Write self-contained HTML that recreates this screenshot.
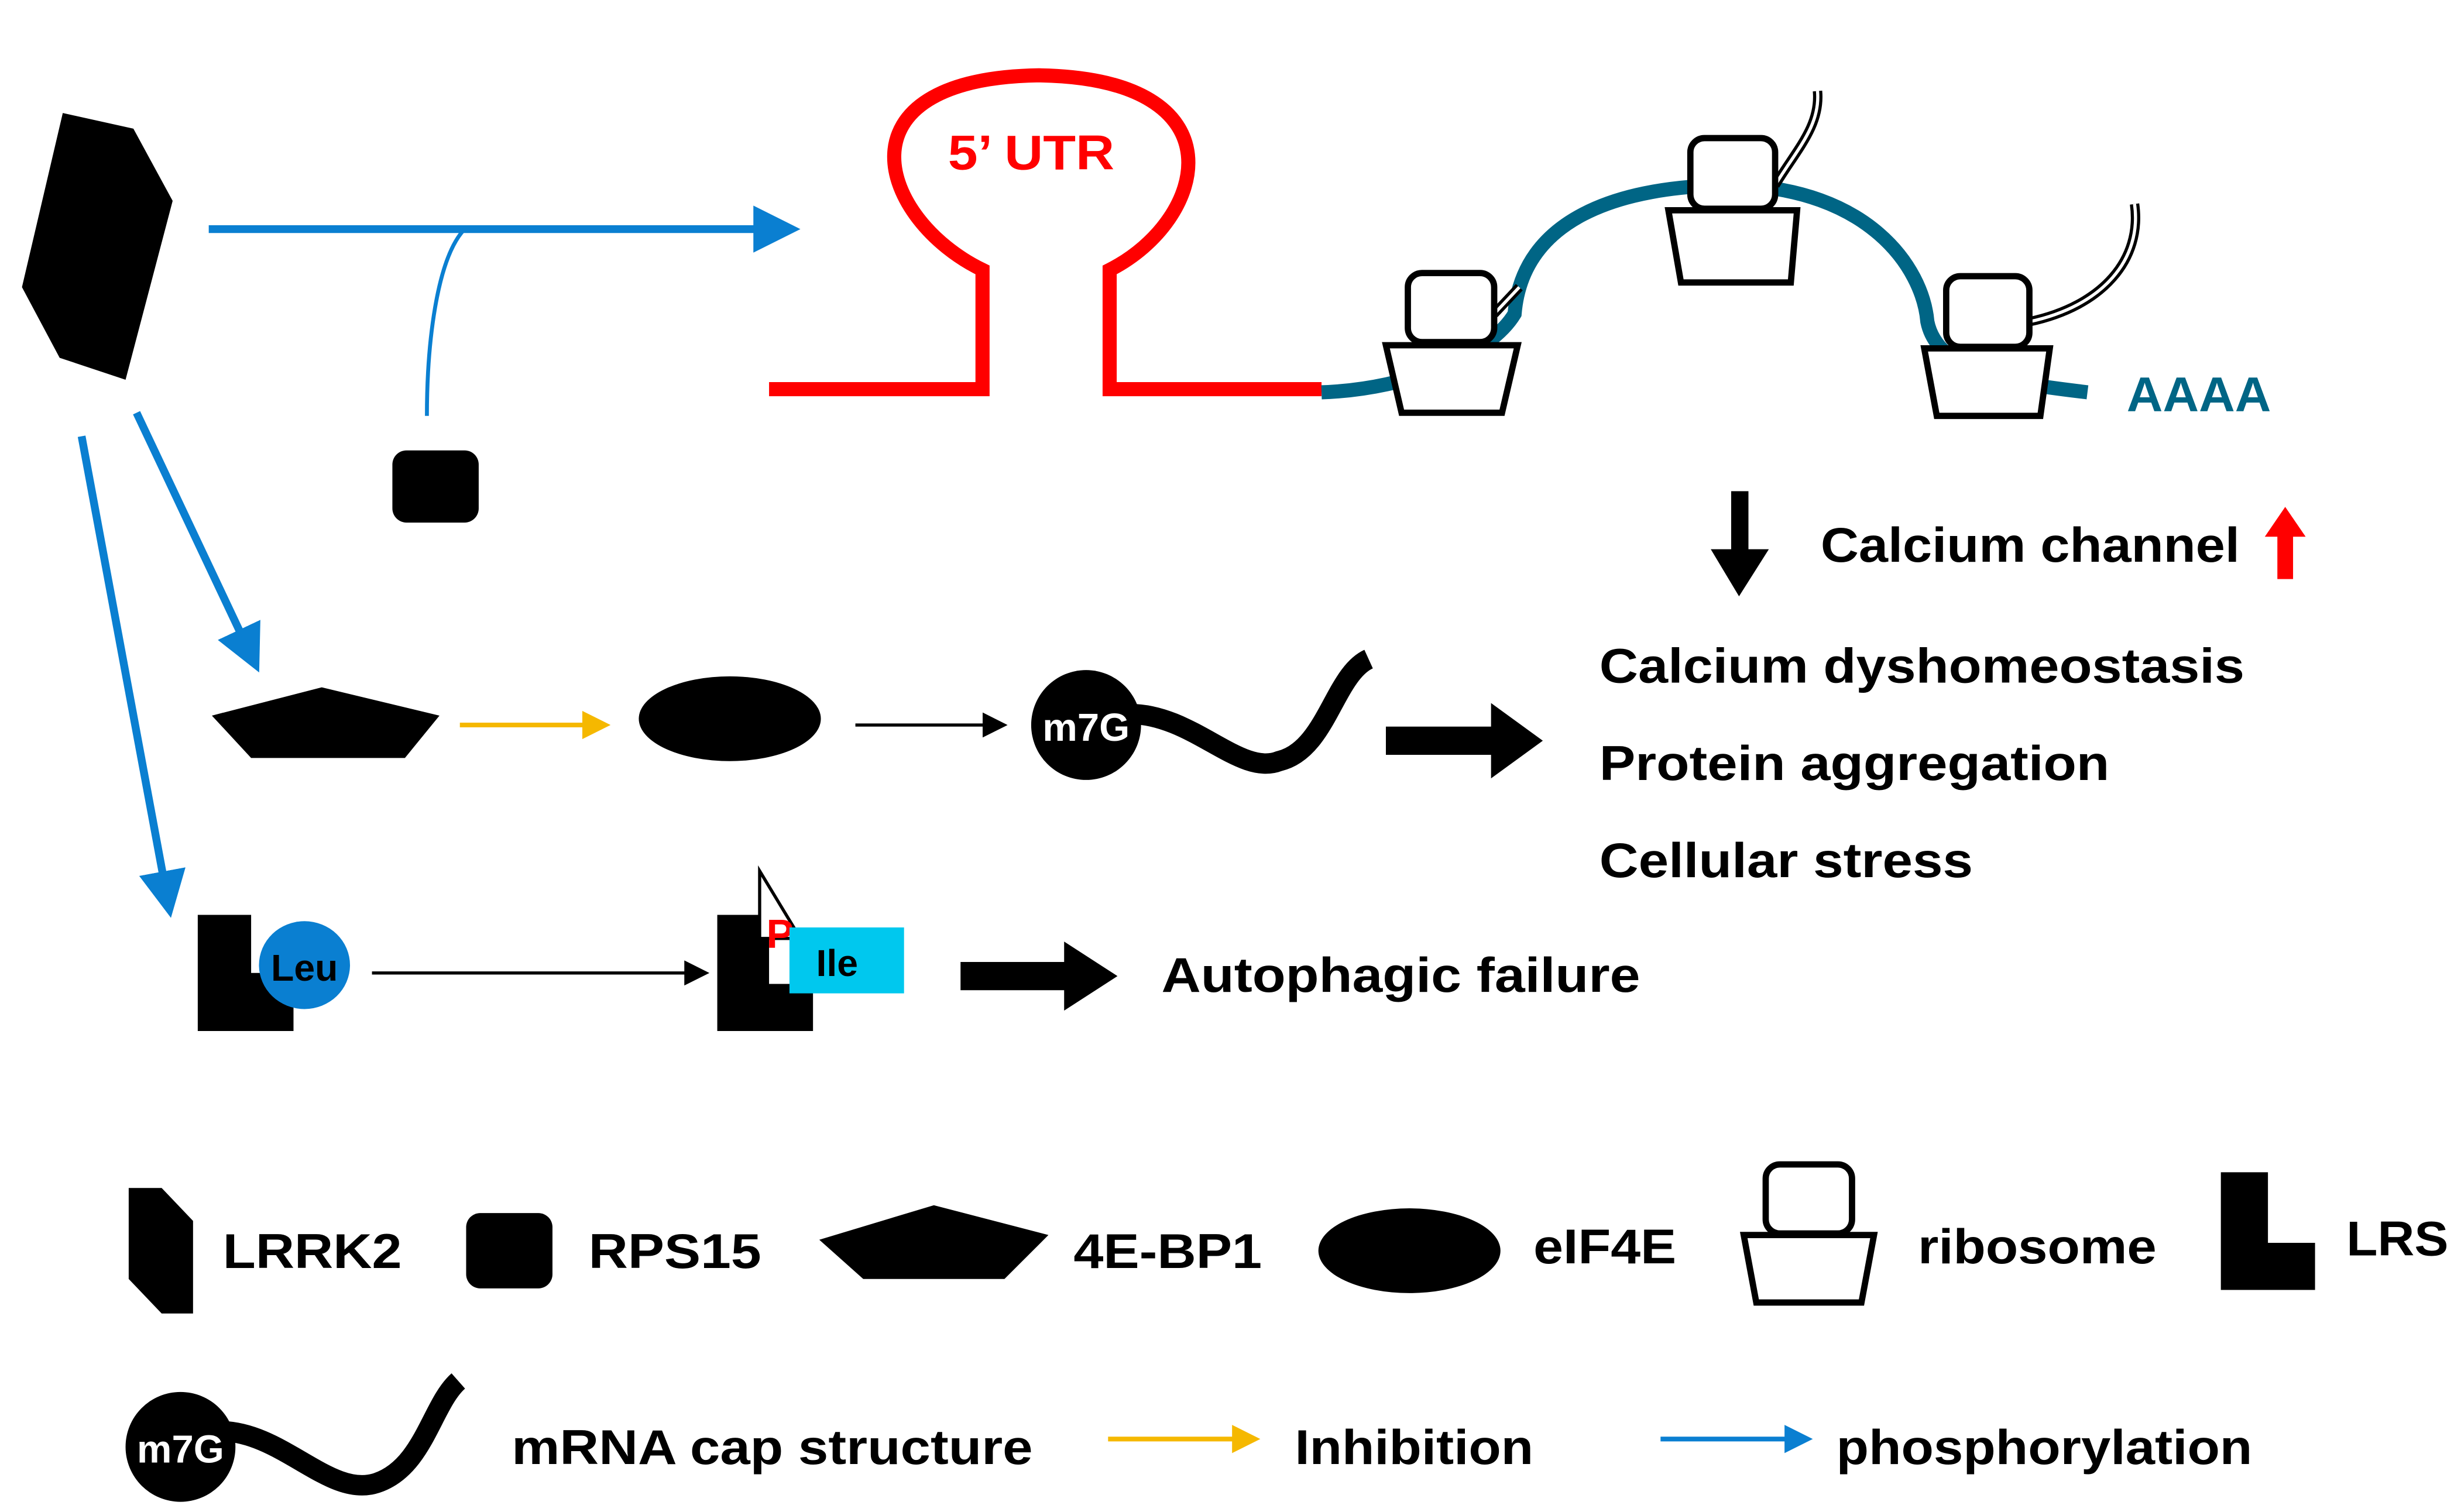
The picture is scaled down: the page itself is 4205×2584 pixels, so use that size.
<!DOCTYPE html>
<html><head><meta charset="utf-8"><style>html,body{margin:0;padding:0;background:#fff}svg{display:block}text{font-family:"Liberation Sans",Arial,sans-serif;font-weight:bold}</style></head>
<body>
<svg width="4205" height="2584" viewBox="0 0 1568 963.5" preserveAspectRatio="none" xmlns="http://www.w3.org/2000/svg">
<defs>
<marker id="ab" markerWidth="6" markerHeight="6" refX="5" refY="3" orient="auto" markerUnits="strokeWidth"><path d="M0,0 L6,3 L0,6 z" fill="#0a7fd1"/></marker>
<marker id="ak" markerWidth="8" markerHeight="8" refX="7" refY="4" orient="auto" markerUnits="strokeWidth"><path d="M0,0 L8,4 L0,8 z" fill="#000"/></marker>
<marker id="ay" markerWidth="6" markerHeight="6" refX="5" refY="3" orient="auto" markerUnits="strokeWidth"><path d="M0,0 L6,3 L0,6 z" fill="#f5b800"/></marker>
</defs>
<polygon points="40,72 85,82 110,128 80,242 38,228 14,183" fill="#000"/>
<line x1="133" y1="146" x2="505" y2="146" stroke="#0a7fd1" stroke-width="5" marker-end="url(#ab)"/>
<path d="M296,146 C278,165 272,220 272,265" fill="none" stroke="#0a7fd1" stroke-width="2.5"/>
<rect x="250" y="287" width="55" height="46" rx="9" fill="#000"/>
<line x1="87" y1="263" x2="163" y2="424" stroke="#0a7fd1" stroke-width="5" marker-end="url(#ab)"/>
<line x1="52" y1="278" x2="108" y2="580" stroke="#0a7fd1" stroke-width="5" marker-end="url(#ab)"/>
<path d="M490,248 H626 V172 C560,140 530,50 662,48 C792,50 770,140 707,172 V248 H842" fill="none" stroke="#f00" stroke-width="9"/>
<text x="604" y="108" font-size="31" fill="#f00" textLength="106" lengthAdjust="spacingAndGlyphs">5’ UTR</text>
<path d="M842,250 C900,248 950,225 965,200 C970,140 1030,118 1105,118 C1190,120 1225,170 1228,205 C1235,240 1290,245 1330,250" fill="none" stroke="#006585" stroke-width="9"/>
<text x="1355" y="262" font-size="31" fill="#006585" textLength="92" lengthAdjust="spacingAndGlyphs">AAAA</text>
<g fill="none" stroke="#000" stroke-width="6"><path d="M952,200 L968,183"/><path d="M1131,118 C1145,95 1160,80 1158,58"/><path d="M1293,205 C1340,195 1365,165 1360,130"/></g>
<g fill="none" stroke="#fff" stroke-width="2"><path d="M952,200 L968,183"/><path d="M1131,118 C1145,95 1160,80 1158,58"/><path d="M1293,205 C1340,195 1365,165 1360,130"/></g>
<g fill="#fff" stroke="#000" stroke-width="4">
<rect x="897" y="174" width="55" height="44" rx="9"/><polygon points="883,220 967,220 957,263 893,263"/>
<rect x="1077" y="88" width="54" height="45" rx="9"/><polygon points="1063,134 1145,134 1141,180 1071,180"/>
<rect x="1240" y="176" width="53" height="45" rx="9"/><polygon points="1226,222 1306,222 1300,265 1234,265"/>
</g>
<rect x="1103" y="313" width="11" height="40" fill="#000"/><polygon points="1090,350 1127,350 1108,380" fill="#000"/>
<text x="1160" y="358" font-size="31" textLength="267" lengthAdjust="spacingAndGlyphs">Calcium channel</text>
<rect x="1451" y="340" width="10" height="29" fill="#f00"/><polygon points="1443,342 1469,342 1456,323" fill="#f00"/>
<polygon points="135,456 205,438 280,456 258,483 160,483" fill="#000"/>
<line x1="293" y1="462" x2="386" y2="462" stroke="#f5b800" stroke-width="3" marker-end="url(#ay)"/>
<ellipse cx="465" cy="458" rx="58" ry="27" fill="#000"/>
<line x1="545" y1="462" x2="640" y2="462" stroke="#000" stroke-width="2" marker-end="url(#ak)"/>
<path d="M720,455 C760,455 790,495 815,485 C845,478 850,430 872,420" fill="none" stroke="#000" stroke-width="13"/>
<circle cx="692" cy="462" r="35" fill="#000"/>
<text x="692" y="472" font-size="25" fill="#fff" text-anchor="middle">m7G</text>
<polygon points="883,463 950,463 950,448 983,472 950,496 950,481 883,481" fill="#000"/>
<text x="1019" y="435" font-size="31" textLength="411" lengthAdjust="spacingAndGlyphs">Calcium dyshomeostasis</text>
<text x="1019" y="497" font-size="31" textLength="325" lengthAdjust="spacingAndGlyphs">Protein aggregation</text>
<text x="1019" y="559" font-size="31" textLength="238" lengthAdjust="spacingAndGlyphs">Cellular stress</text>
<polygon points="126,583 160,583 160,620 187,620 187,657 126,657" fill="#000"/>
<ellipse cx="194" cy="615" rx="29" ry="28" fill="#0a7fd1"/>
<text x="194" y="625" font-size="24" text-anchor="middle">Leu</text>
<line x1="237" y1="620" x2="450" y2="620" stroke="#000" stroke-width="2" marker-end="url(#ak)"/>
<polygon points="457,583 490,583 490,627 518,627 518,657 457,657" fill="#000"/>
<polygon points="484,555 510,598 484,598" fill="#fff" stroke="#000" stroke-width="2"/>
<text x="497" y="604" font-size="26" fill="#f00" text-anchor="middle">P</text>
<rect x="503" y="591" width="73" height="42" fill="#00c8ee"/>
<text x="520" y="622" font-size="24">Ile</text>
<polygon points="612,613 678,613 678,600 712,622 678,644 678,631 612,631" fill="#000"/>
<text x="740" y="632" font-size="31" textLength="305" lengthAdjust="spacingAndGlyphs">Autophagic  failure</text>
<polygon points="82,757 103,757 123,778 123,837 103,837 82,815" fill="#000"/>
<text x="142" y="808" font-size="31" textLength="114" lengthAdjust="spacingAndGlyphs">LRRK2</text>
<rect x="297" y="773" width="55" height="48" rx="9" fill="#000"/>
<text x="375" y="808" font-size="31" textLength="110" lengthAdjust="spacingAndGlyphs">RPS15</text>
<polygon points="522,790 595,768 668,787 640,815 550,815" fill="#000"/>
<text x="684" y="808" font-size="31" textLength="120" lengthAdjust="spacingAndGlyphs">4E-BP1</text>
<ellipse cx="898" cy="797" rx="58" ry="27" fill="#000"/>
<text x="977" y="805" font-size="31" textLength="91" lengthAdjust="spacingAndGlyphs">eIF4E</text>
<g fill="#fff" stroke="#000" stroke-width="4"><rect x="1125" y="742" width="55" height="44" rx="9"/><polygon points="1111,787 1194,787 1186,830 1119,830"/></g>
<text x="1222" y="805" font-size="31" textLength="152" lengthAdjust="spacingAndGlyphs">ribosome</text>
<polygon points="1415,747 1445,747 1445,792 1475,792 1475,822 1415,822" fill="#000"/>
<text x="1495" y="800" font-size="31" textLength="65" lengthAdjust="spacingAndGlyphs">LRS</text>
<path d="M140,912 C180,912 210,955 240,945 C270,935 275,895 292,880" fill="none" stroke="#000" stroke-width="13"/>
<circle cx="115" cy="922" r="35" fill="#000"/>
<text x="115" y="932" font-size="25" fill="#fff" text-anchor="middle">m7G</text>
<text x="326" y="933" font-size="31" textLength="332" lengthAdjust="spacingAndGlyphs">mRNA cap structure</text>
<line x1="706" y1="917" x2="800" y2="917" stroke="#f5b800" stroke-width="3" marker-end="url(#ay)"/>
<text x="825" y="933" font-size="31" textLength="152" lengthAdjust="spacingAndGlyphs">Inhibition</text>
<line x1="1058" y1="917" x2="1152" y2="917" stroke="#0a7fd1" stroke-width="3" marker-end="url(#ab)"/>
<text x="1170" y="933" font-size="31" textLength="265" lengthAdjust="spacingAndGlyphs">phosphorylation</text>
</svg>
</body></html>
